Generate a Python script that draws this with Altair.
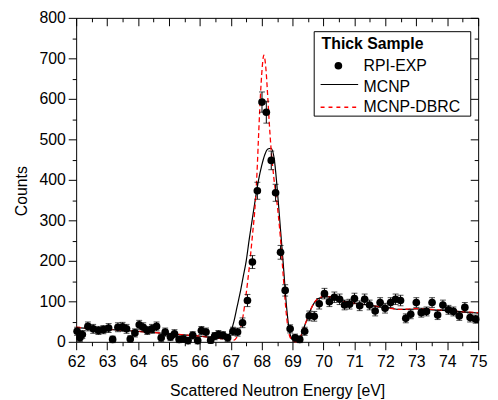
import altair as alt
import pandas as pd

# ---------------- data ----------------
exp_energy = [62.03, 62.12, 62.20, 62.38, 62.55, 62.72, 62.88, 63.05, 63.18, 63.35,
              63.50, 63.63, 63.75, 63.90, 64.04, 64.17, 64.30, 64.45, 64.60, 64.75,
              64.88, 65.05, 65.18, 65.33, 65.47, 65.62, 65.77, 65.93, 66.05, 66.20,
              66.35, 66.48, 66.60, 66.75, 66.90, 67.07, 67.22, 67.38, 67.54, 67.70,
              67.86, 68.01, 68.15, 68.31, 68.45, 68.61, 68.76, 68.92, 69.08, 69.23,
              69.39, 69.54, 69.70, 69.86, 70.03, 70.19, 70.35, 70.52, 70.68, 70.84,
              71.00, 71.17, 71.33, 71.49, 71.67, 71.83, 71.99, 72.17, 72.33, 72.49,
              72.66, 72.82, 73.00, 73.16, 73.33, 73.51, 73.69, 73.86, 74.04, 74.20,
              74.39, 74.57, 74.74, 74.92]
exp_counts = [26, 10, 18, 38, 32, 28, 30, 34, 6, 36,
              37, 32, 7, 22, 42, 36, 28, 32, 38, 10,
              24, 12, 20, 6, 7, 3, 16, 3, 28, 24,
              4, 14, 18, 16, 10, 26, 24, 47, 102, 197,
              373, 592, 567, 448, 368, 221, 127, 32, 10, 6,
              26, 64, 63, 94, 119, 99, 110, 105, 91, 93,
              107, 89, 105, 91, 76, 97, 83, 97, 105, 102,
              58, 68, 97, 72, 75, 97, 66, 91, 79, 75,
              64, 85, 60, 56]
exp_err = [10, 9, 10, 11, 11, 10, 10, 11, 8, 11,
           11, 11, 8, 10, 11, 11, 10, 11, 11, 9,
           10, 9, 10, 8, 8, 8, 9, 8, 10, 10,
           8, 9, 10, 9, 9, 10, 10, 12, 15, 16,
           21, 25, 27, 23, 21, 17, 14, 10, 9, 8,
           10, 12, 12, 13, 13, 12, 13, 13, 12, 12,
           13, 12, 13, 12, 12, 12, 12, 12, 13, 13,
           11, 11, 12, 11, 11, 12, 11, 12, 11, 11,
           11, 12, 11, 10]

mcnp_energy = [62.0, 62.5, 63.0, 63.5, 64.0, 64.5, 65.0, 65.5, 66.0, 66.5,
               66.8, 66.9, 67.0, 67.1, 67.2, 67.3, 67.4, 67.5, 67.6, 67.7,
               67.8, 67.9, 68.0, 68.1, 68.2, 68.3, 68.4, 68.5, 68.6, 68.7,
               68.8, 68.9, 69.0, 69.1, 69.2, 69.3, 69.4, 69.5, 69.6, 69.7,
               69.8, 69.9, 70.0, 70.2, 70.5, 71.0, 71.5, 72.0, 72.5, 73.0,
               73.5, 74.0, 74.5, 75.0]
mcnp_counts = [35, 33, 31, 28, 26, 23, 20, 17, 14, 10,
               10, 14, 25, 50, 85, 120, 160, 200, 255, 305,
               355, 400, 435, 462, 476, 478, 455, 380, 285, 190,
               90, 25, 5, 2, 6, 20, 42, 62, 82, 96,
               105, 109, 111, 111, 104, 96, 90, 85, 80, 81,
               79, 77, 74, 71]

dbrc_energy = [62.0, 62.5, 63.0, 63.5, 64.0, 64.5, 65.0, 65.5, 66.0, 66.5,
               66.9, 67.1, 67.2, 67.3, 67.4, 67.5, 67.6, 67.7, 67.8, 67.85,
               67.9, 67.95, 68.0, 68.07, 68.13, 68.2, 68.25, 68.3, 68.4, 68.5,
               68.6, 68.7, 68.8, 68.9, 69.0, 69.1, 69.2, 69.3, 69.4, 69.5,
               69.6, 69.7, 69.8, 69.9, 70.0, 70.3, 70.6, 71.0, 71.5, 72.0,
               72.5, 73.0, 73.5, 74.0, 74.5, 75.0]
dbrc_counts = [36, 33, 31, 28, 26, 23, 20, 17, 14, 10,
               6, 4, 12, 30, 65, 120, 185, 262, 350, 420,
               510, 594, 660, 708, 680, 600, 535, 480, 400, 340,
               262, 160, 66, 15, 3, 0, 5, 20, 42, 62,
               82, 97, 106, 110, 112, 110, 100, 95, 90, 84,
               80, 82, 80, 77, 74, 72]

x_ticks = [62, 62.5, 63, 63.5, 64, 64.5, 65, 65.5, 66, 66.5, 67, 67.5, 68, 68.5,
           69, 69.5, 70, 70.5, 71, 71.5, 72, 72.5, 73, 73.5, 74, 74.5, 75]
y_ticks = [0, 50, 100, 150, 200, 250, 300, 350, 400, 450, 500, 550, 600, 650, 700, 750, 800]

legend_title = "Thick Sample"
legend_labels = ["RPI-EXP", "MCNP", "MCNP-DBRC"]

# ---------------- tables ----------------
exp = pd.DataFrame({"E": exp_energy, "C": exp_counts, "err": exp_err})
exp["lo"] = exp["C"] - exp["err"]
exp["hi"] = exp["C"] + exp["err"]
mcnp = pd.DataFrame({"E": mcnp_energy, "C": mcnp_counts})
dbrc = pd.DataFrame({"E": dbrc_energy, "C": dbrc_counts})

FONT = "Liberation Sans"
xs = alt.Scale(domain=[62, 75], nice=False, zero=False)
ys = alt.Scale(domain=[0, 800], nice=False, zero=False)

x_minor = "datum.value % 1 !== 0"
y_minor = "datum.value % 100 !== 0"

x_bottom = alt.Axis(orient="bottom", values=x_ticks, grid=False, domain=False,
                    labelExpr="datum.value % 1 === 0 ? '' + datum.value : ''",
                    labelOverlap=False, labelFlush=False,
                    tickSize=8, tickColor="black", tickWidth=1,
                    tickDash={"condition": {"test": x_minor, "value": [4, 4]}, "value": [8, 0]},
                    labelFont=FONT, labelFontSize=16, labelColor="black", labelPadding=3.5,
                    title="Scattered Neutron Energy [eV]", titleFont=FONT, titleFontSize=16,
                    titleFontWeight="normal", titleColor="black", titlePadding=13,
                    minExtent=28, maxExtent=28)
y_left = alt.Axis(orient="left", values=y_ticks, grid=False, domain=False,
                  labelExpr="datum.value % 100 === 0 ? '' + datum.value : ''",
                  labelOverlap=False, labelFlush=False,
                  tickSize=8, tickColor="black", tickWidth=1,
                  tickDash={"condition": {"test": y_minor, "value": [4, 4]}, "value": [8, 0]},
                  labelFont=FONT, labelFontSize=16, labelColor="black", labelPadding=3,
                  title="Counts", titleFont=FONT, titleFontSize=16,
                  titleFontWeight="normal", titleColor="black", titlePadding=9,
                  titleY=175, minExtent=38, maxExtent=38)
x_top = alt.Axis(orient="top", values=x_ticks, grid=False, domain=False, labels=False,
                 offset=-8, tickSize=8, tickColor="black", tickWidth=1,
                 tickDash={"condition": {"test": x_minor, "value": [0, 4, 4, 0]}, "value": [8, 0]},
                 title=None, minExtent=0, maxExtent=0)
y_right = alt.Axis(orient="right", values=y_ticks, grid=False, domain=False, labels=False,
                   offset=-8, tickSize=8, tickColor="black", tickWidth=1,
                   tickDash={"condition": {"test": y_minor, "value": [0, 4, 4, 0]}, "value": [8, 0]},
                   title=None, minExtent=0, maxExtent=0)

base = alt.Chart(exp)

# axis carrier layers
axes_main = base.mark_point(opacity=0).encode(
    x=alt.X("E:Q", scale=xs, axis=x_bottom),
    y=alt.Y("C:Q", scale=ys, axis=y_left),
)
axes_mirror = base.mark_point(opacity=0).encode(
    x=alt.X("E:Q", scale=xs, axis=x_top),
    y=alt.Y("C:Q", scale=ys, axis=y_right),
)

mcnp_line = alt.Chart(mcnp).mark_line(color="black", strokeWidth=1.2, interpolate="monotone").encode(
    x=alt.X("E:Q", scale=xs, axis=None),
    y=alt.Y("C:Q", scale=ys, axis=None),
)
dbrc_line = alt.Chart(dbrc).mark_line(color="#ff0000", strokeWidth=1.3, strokeDash=[5, 3],
                                      interpolate="monotone").encode(
    x=alt.X("E:Q", scale=xs, axis=None),
    y=alt.Y("C:Q", scale=ys, axis=None),
)

err_rules = base.mark_rule(color="black", strokeWidth=1).encode(
    x=alt.X("E:Q", scale=xs, axis=None),
    y=alt.Y("lo:Q", scale=ys, axis=None),
    y2="hi:Q",
)
cap_lo = base.mark_tick(color="black", orient="horizontal", size=6, thickness=1).encode(
    x=alt.X("E:Q", scale=xs, axis=None),
    y=alt.Y("lo:Q", scale=ys, axis=None),
)
cap_hi = base.mark_tick(color="black", orient="horizontal", size=6, thickness=1).encode(
    x=alt.X("E:Q", scale=xs, axis=None),
    y=alt.Y("hi:Q", scale=ys, axis=None),
)
points = base.mark_circle(color="black", opacity=1, size=60).encode(
    x=alt.X("E:Q", scale=xs, axis=None),
    y=alt.Y("C:Q", scale=ys, axis=None),
)

# ---------------- legend (drawn inside the plot) ----------------
one = alt.Data(values=[{"k": 1}])
leg_box = alt.Chart(one).mark_rect(fill="white", stroke="black", strokeWidth=1).encode(
    x=alt.value(241), x2=alt.value(399.5), y=alt.value(14), y2=alt.value(99.5))
leg_title = alt.Chart(one).mark_text(align="left", baseline="alphabetic", font=FONT,
                                     fontSize=16, fontWeight="bold", color="black").encode(
    x=alt.value(248.5), y=alt.value(32), text=alt.value(legend_title))
leg_pt = alt.Chart(one).mark_circle(color="black", opacity=1, size=60).encode(
    x=alt.value(265.5), y=alt.value(48.5))
leg_l1 = alt.Chart(one).mark_rule(color="black", strokeWidth=1.2).encode(
    x=alt.value(247.5), x2=alt.value(285.5), y=alt.value(67.5))
leg_l2 = alt.Chart(one).mark_rule(color="#ff0000", strokeWidth=1.3, strokeDash=[4, 4]).encode(
    x=alt.value(247.5), x2=alt.value(285.5), y=alt.value(90.5))
leg_t1 = alt.Chart(one).mark_text(align="left", baseline="alphabetic", font=FONT,
                                  fontSize=16, color="black").encode(
    x=alt.value(291), y=alt.value(53.5), text=alt.value(legend_labels[0]))
leg_t2 = alt.Chart(one).mark_text(align="left", baseline="alphabetic", font=FONT,
                                  fontSize=16, color="black").encode(
    x=alt.value(291), y=alt.value(75), text=alt.value(legend_labels[1]))
leg_t3 = alt.Chart(one).mark_text(align="left", baseline="alphabetic", font=FONT,
                                  fontSize=16, color="black").encode(
    x=alt.value(291), y=alt.value(95.5), text=alt.value(legend_labels[2]))

chart = alt.layer(
    axes_main, axes_mirror, mcnp_line, dbrc_line, err_rules, cap_lo, cap_hi, points,
    leg_box, leg_title, leg_pt, leg_l1, leg_l2, leg_t1, leg_t2, leg_t3,
).resolve_axis(x="independent", y="independent").properties(
    width=407, height=328,
    autosize=alt.AutoSizeParams(type="none"),
    padding={"left": 69, "top": 7.5, "right": 12, "bottom": 62},
    background="white",
).configure_view(stroke="black", strokeWidth=1)

chart.save("out.html", embed_options={"renderer": "svg", "actions": False})
